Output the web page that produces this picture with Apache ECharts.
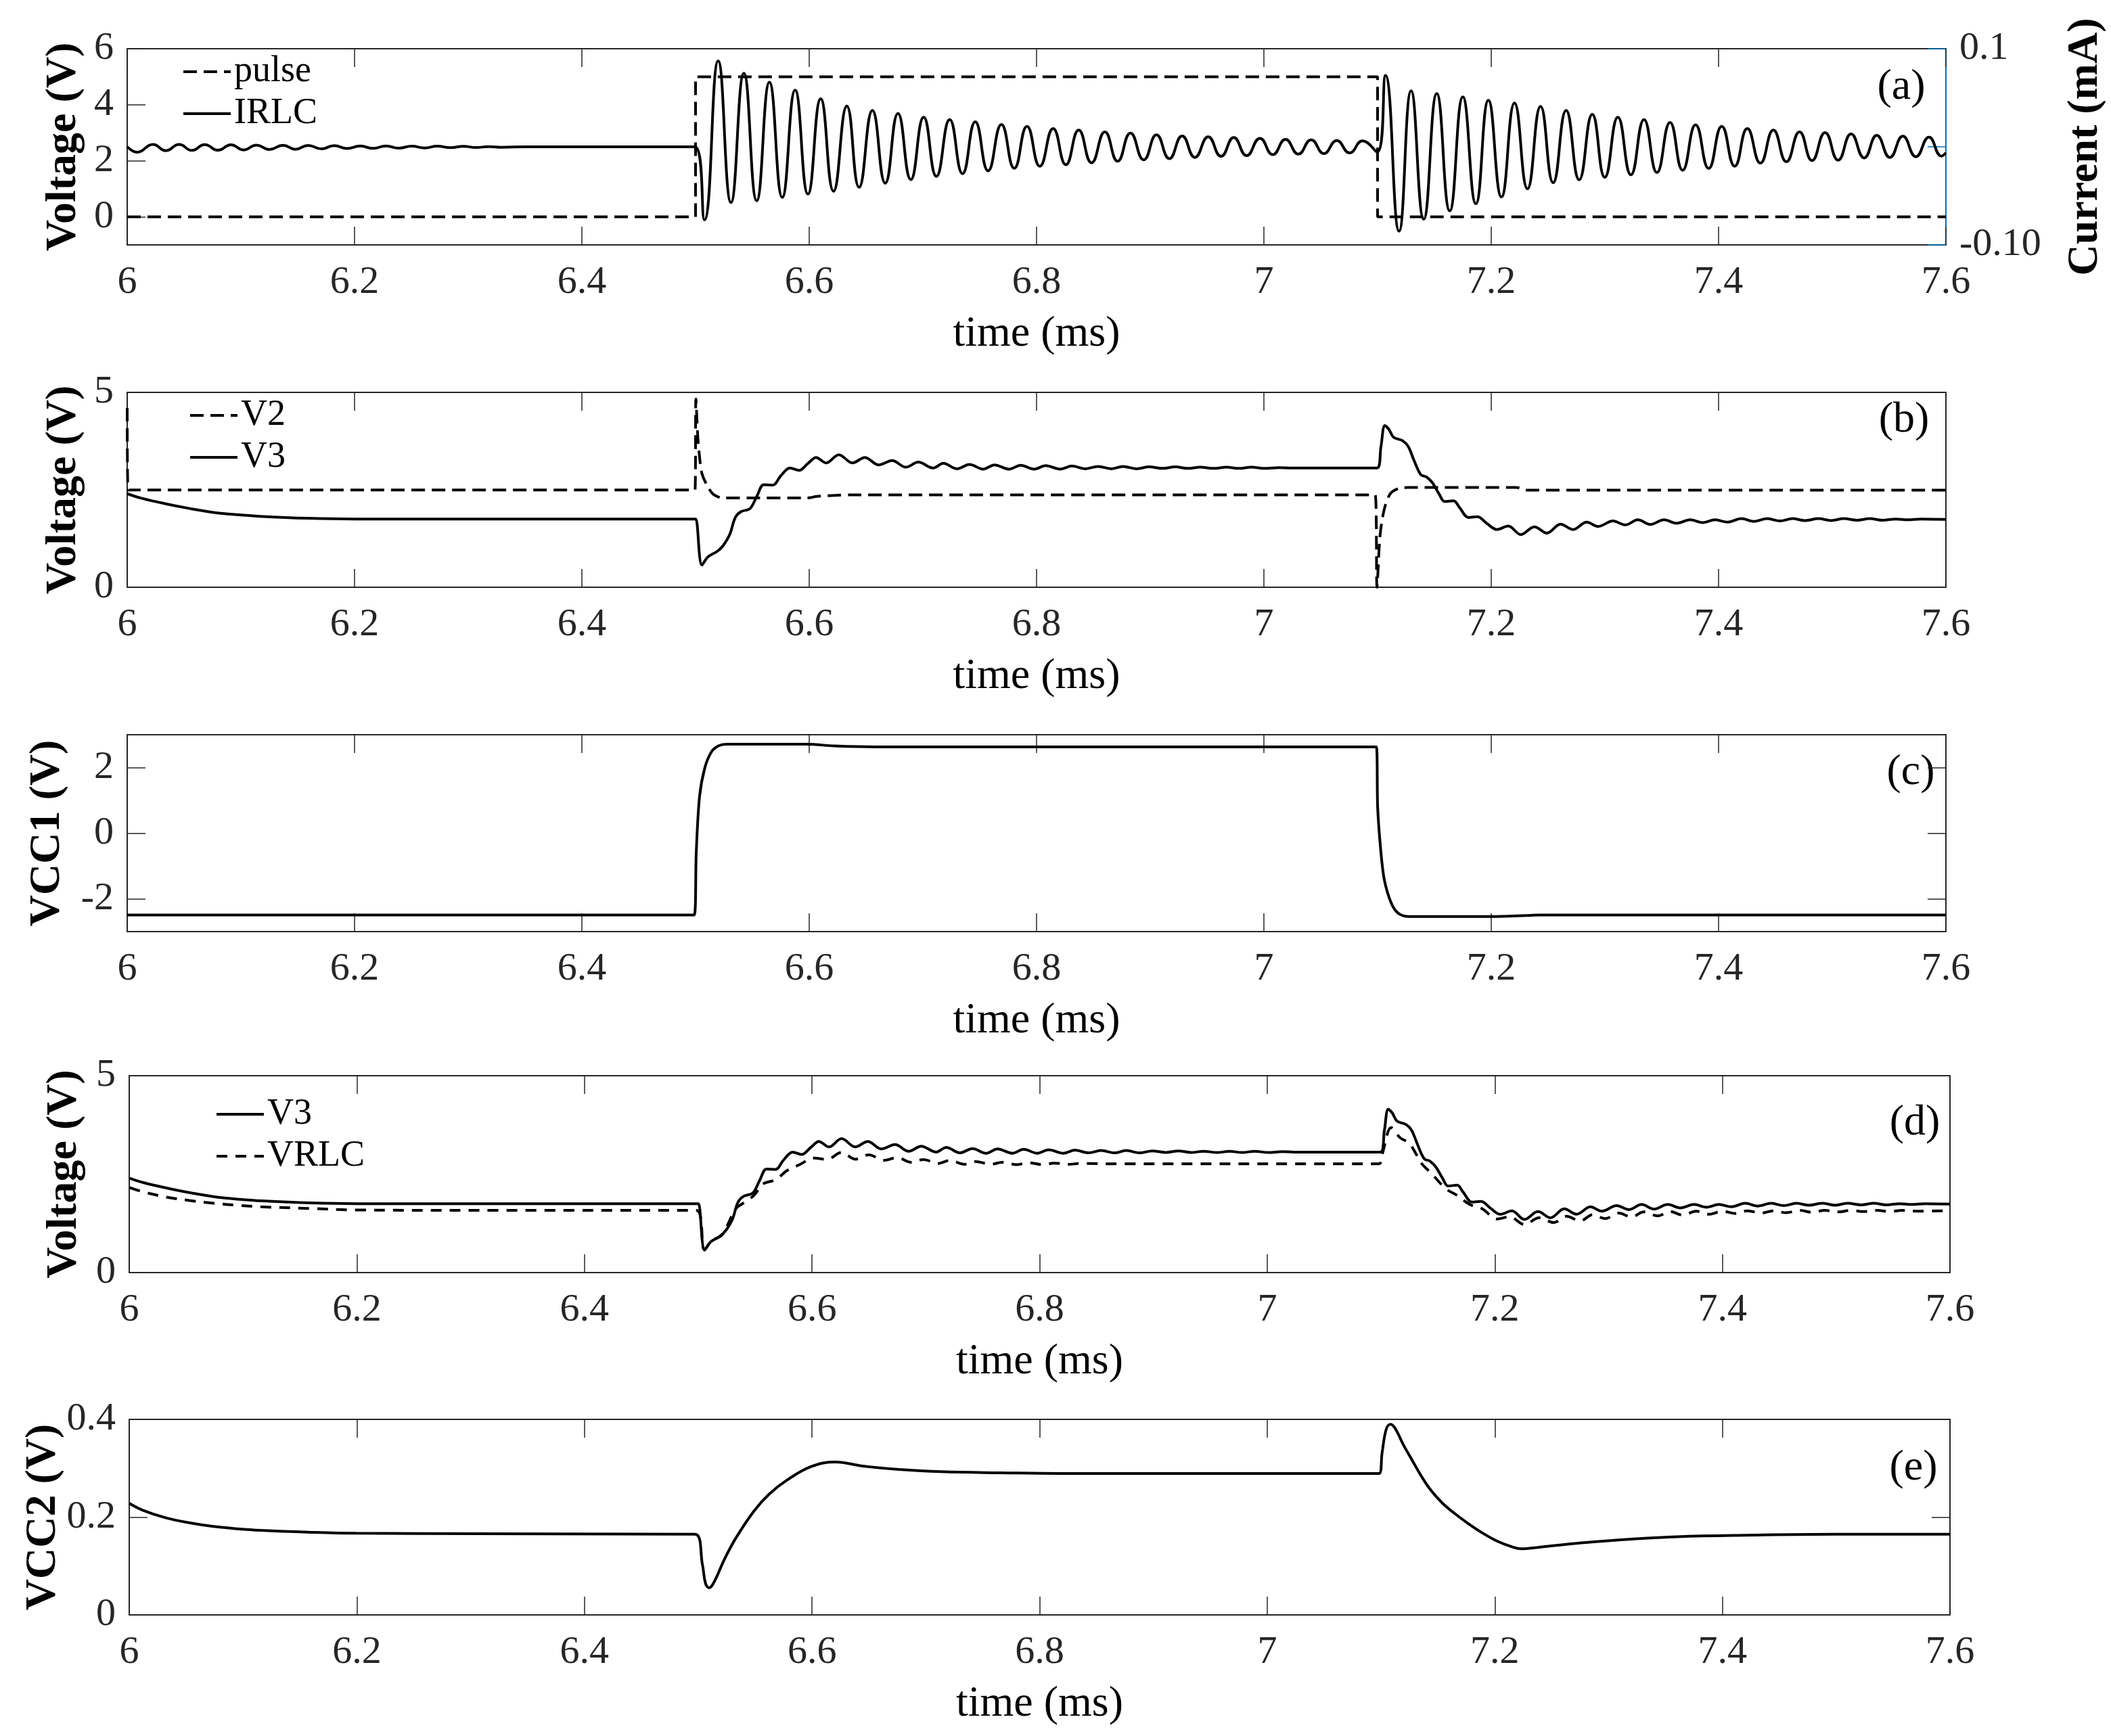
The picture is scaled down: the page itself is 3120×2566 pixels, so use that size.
<!DOCTYPE html>
<html>
<head>
<meta charset="utf-8">
<script src="https://cdn.jsdelivr.net/npm/echarts@6.0.0/dist/echarts.min.js"></script>
<style>
html,body{margin:0;padding:0;background:#fff;}
#chart{width:3120px;height:2566px;}
</style>
</head>
<body>
<div id="chart"></div>
<script>
// tick values
var timeTicks = [6, 6.2, 6.4, 6.6, 6.8, 7, 7.2, 7.4, 7.6];
var ticksA = [0, 2, 4, 6];
var ticksCurrent = [-0.1, 0, 0.1];
var labelsCurrent = [-0.1, 0.1];
var ticksB = [0, 5];
var ticksC = [-2, 0, 2];
var ticksD = [0, 5];
var ticksE = [0, 0.2, 0.4];

// (a) pulse (V) and IRLC (mA)
var pulse = [[6, 0], [6.5, 0], [6.5, 5], [7.1, 5], [7.1, 0], [7.6, 0]];
var irlc = [
  [6.000, 0.0002], [6.0089, -0.0055], [6.0227, 0.0025], [6.0340, -0.0039], [6.0457, 0.0025], [6.0569, -0.0037],
  [6.0682, 0.0023], [6.0799, -0.0035], [6.0912, 0.0021], [6.1024, -0.0032], [6.1137, 0.0018], [6.1250, -0.0028],
  [6.1371, 0.0016], [6.1479, -0.0025], [6.1592, 0.0014], [6.1709, -0.0021], [6.1821, 0.0012], [6.1934, -0.0018],
  [6.2051, 0.0009], [6.2164, -0.0016], [6.2276, 0.0009], [6.2389, -0.0014], [6.2502, 0.0007], [6.2618, -0.0012],
  [6.2727, 0.0007], [6.2844, -0.0009], [6.2958, 0.0005], [6.3069, -0.0007], [6.3182, 0.0002], [6.3295, -0.0005],
  [6.35, 0], [6.4995, 0],
  [6.5078, -0.0745], [6.5199, 0.0876], [6.5312, -0.0568], [6.5425, 0.0750], [6.5538, -0.0550], [6.5650, 0.0658],
  [6.5763, -0.0515], [6.5876, 0.0577], [6.5989, -0.0481], [6.6101, 0.0490], [6.6214, -0.0453], [6.6331, 0.0416],
  [6.6439, -0.0412], [6.6556, 0.0370], [6.6669, -0.0370], [6.6781, 0.0340], [6.6894, -0.0334], [6.7007, 0.0301],
  [6.7119, -0.0301], [6.7236, 0.0278], [6.7349, -0.0274], [6.7461, 0.0255], [6.7574, -0.0244], [6.7691, 0.0228],
  [6.7804, -0.0219], [6.7916, 0.0209], [6.8029, -0.0198], [6.8146, 0.0186], [6.8258, -0.0182], [6.8371, 0.0170],
  [6.8484, -0.0163], [6.8601, 0.0152], [6.8713, -0.0147], [6.8826, 0.0140], [6.8943, -0.0133], [6.9055, 0.0122],
  [6.9168, -0.0120], [6.9281, 0.0110], [6.9393, -0.0108], [6.9510, 0.0101], [6.9623, -0.0097], [6.9735, 0.0094],
  [6.9848, -0.0090], [6.9965, 0.0087], [7.0078, -0.0080], [7.0190, 0.0076], [7.0303, -0.0074], [7.0416, 0.0071],
  [7.0528, -0.0069], [7.0641, 0.0064], [7.0754, -0.0062], [7.0867, 0.0060], [7.0996, -0.0055],
  [7.1070, 0.0727], [7.1189, -0.0860], [7.1295, 0.0570], [7.1406, -0.0738], [7.1521, 0.0543], [7.1635, -0.0653],
  [7.1750, 0.0508], [7.1865, -0.0580], [7.1975, 0.0474], [7.2090, -0.0511], [7.2205, 0.0446], [7.2319, -0.0428],
  [7.2434, 0.0412], [7.2545, -0.0366], [7.2659, 0.0370], [7.2774, -0.0336], [7.2889, 0.0331], [7.2999, -0.0311],
  [7.3114, 0.0301], [7.3229, -0.0285], [7.3344, 0.0278], [7.3458, -0.0262], [7.3573, 0.0248], [7.3684, -0.0239],
  [7.3798, 0.0225], [7.3913, -0.0221], [7.4028, 0.0209], [7.4142, -0.0198], [7.4253, 0.0186], [7.4368, -0.0166],
  [7.4482, 0.0170], [7.4597, -0.0152], [7.4712, 0.0152], [7.4822, -0.0140], [7.4937, 0.0145], [7.5052, -0.0136],
  [7.5166, 0.0131], [7.5281, -0.0113], [7.5392, 0.0117], [7.5507, -0.0108], [7.5621, 0.0108], [7.5736, -0.0101],
  [7.5851, 0.0099], [7.5961, -0.0094], [7.6, -0.006]
];

// (b) V2, V3 ; (d) V3, VRLC
var v2 = [
  [6.0, 4.6], [6.0008, 2.494], [6.4995, 2.494], [6.5003, 4.83], [6.5019, 3.9], [6.503, 3.5], [6.5056, 2.92],
  [6.511, 2.57], [6.5163, 2.37], [6.5242, 2.29], [6.5561, 2.29], [6.5986, 2.29], [6.6066, 2.33], [6.6252, 2.36],
  [6.6358, 2.37], [7.0979, 2.37], [7.0995, 0.0], [7.1021, 1.30], [7.1058, 1.99], [7.1112, 2.40], [7.1191, 2.54],
  [7.1271, 2.56], [7.222, 2.56], [7.231, 2.49], [7.6, 2.49]
];
var v3 = [
  [6.000, 2.40], [6.013, 2.28], [6.034, 2.14], [6.055, 2.02], [6.076, 1.92], [6.097, 1.86], [6.117, 1.82],
  [6.159, 1.77], [6.201, 1.75], [6.305, 1.75], [6.4995, 1.75], [6.5003, 1.75],
  [6.5056, 0.57], [6.511, 0.78], [6.519, 0.92], [6.524, 1.06], [6.530, 1.35], [6.535, 1.79], [6.540, 1.94],
  [6.548, 2.02], [6.554, 2.34], [6.560, 2.63], [6.568, 2.62], [6.575, 2.86], [6.583, 3.06], [6.591, 3.00],
  [6.599, 3.18], [6.606, 3.33], [6.615, 3.19], [6.626, 3.40], [6.638, 3.19], [6.649, 3.33], [6.661, 3.14],
  [6.673, 3.25], [6.685, 3.08], [6.696, 3.21], [6.709, 3.06], [6.718, 3.18], [6.730, 3.04], [6.741, 3.15],
  [6.753, 3.03], [6.763, 3.14], [6.776, 3.03], [6.786, 3.13], [6.798, 3.03], [6.808, 3.12], [6.821, 3.03],
  [6.831, 3.11], [6.843, 3.04], [6.854, 3.10], [6.866, 3.04], [6.876, 3.10], [6.888, 3.04], [6.899, 3.09],
  [6.911, 3.05], [6.922, 3.09], [6.933, 3.05], [6.944, 3.08], [6.956, 3.05], [6.967, 3.08], [6.978, 3.05],
  [6.989, 3.08], [7.001, 3.05], [7.013, 3.07], [7.024, 3.06], [7.0995, 3.06],
  [7.103, 3.61], [7.1064, 4.15], [7.110, 4.05], [7.114, 3.85], [7.122, 3.76], [7.127, 3.61], [7.132, 3.26],
  [7.138, 2.89], [7.143, 2.83], [7.148, 2.69], [7.154, 2.40], [7.159, 2.20], [7.167, 2.22], [7.172, 2.05],
  [7.180, 1.79], [7.188, 1.81], [7.196, 1.64], [7.205, 1.48], [7.215, 1.57], [7.226, 1.35], [7.238, 1.55],
  [7.249, 1.39], [7.261, 1.62], [7.272, 1.48], [7.284, 1.67], [7.294, 1.56], [7.307, 1.70], [7.318, 1.60],
  [7.329, 1.73], [7.340, 1.61], [7.352, 1.73], [7.363, 1.64], [7.375, 1.73], [7.386, 1.66], [7.397, 1.73],
  [7.408, 1.67], [7.420, 1.76], [7.431, 1.69], [7.443, 1.76], [7.454, 1.70], [7.465, 1.76], [7.476, 1.71],
  [7.488, 1.76], [7.499, 1.71], [7.510, 1.76], [7.522, 1.72], [7.533, 1.76], [7.544, 1.72], [7.556, 1.75],
  [7.566, 1.73], [7.578, 1.75], [7.600, 1.74]
];
var vrlc = [
  [6.0003, 2.16], [6.012, 2.05], [6.032, 1.92], [6.053, 1.83], [6.074, 1.76], [6.095, 1.71], [6.116, 1.67],
  [6.158, 1.63], [6.199, 1.59], [6.304, 1.58], [6.4985, 1.58], [6.5054, 0.58], [6.512, 0.81], [6.520, 0.93],
  [6.525, 1.16], [6.533, 1.62], [6.541, 1.79], [6.549, 1.96], [6.557, 2.25], [6.568, 2.36], [6.578, 2.59],
  [6.589, 2.74], [6.602, 2.91], [6.613, 2.87], [6.626, 3.05], [6.638, 2.88], [6.650, 2.99], [6.663, 2.85],
  [6.675, 2.92], [6.687, 2.80], [6.698, 2.87], [6.711, 2.77], [6.721, 2.85], [6.734, 2.75], [6.744, 2.82],
  [6.757, 2.75], [6.767, 2.80], [6.780, 2.74], [6.790, 2.79], [6.803, 2.74], [6.813, 2.78], [6.825, 2.75],
  [6.836, 2.77], [6.873, 2.76], [7.098, 2.76], [7.101, 3.00], [7.109, 3.68], [7.117, 3.42], [7.125, 3.28],
  [7.136, 2.76], [7.144, 2.53], [7.157, 2.13], [7.167, 1.96], [7.178, 1.73], [7.189, 1.62], [7.202, 1.36],
  [7.213, 1.42], [7.226, 1.22], [7.239, 1.39], [7.252, 1.27], [7.263, 1.43], [7.275, 1.31], [7.286, 1.47],
  [7.297, 1.37], [7.309, 1.51], [7.320, 1.41], [7.331, 1.54], [7.343, 1.44], [7.354, 1.55], [7.365, 1.46],
  [7.377, 1.56], [7.388, 1.48], [7.400, 1.56], [7.411, 1.50], [7.422, 1.57], [7.434, 1.51], [7.445, 1.57],
  [7.456, 1.52], [7.468, 1.58], [7.479, 1.53], [7.490, 1.58], [7.502, 1.54], [7.513, 1.58], [7.524, 1.55],
  [7.536, 1.58], [7.547, 1.55], [7.558, 1.58], [7.570, 1.56], [7.600, 1.57]
];

// (c) VCC1
var vcc1 = [
  [6.0, -2.495], [6.4988, -2.495], [6.5006, -0.60], [6.5035, 1.11], [6.5083, 2.01], [6.5142, 2.49], [6.5201, 2.66],
  [6.5272, 2.71], [6.5982, 2.71], [6.6219, 2.66], [6.6574, 2.63], [7.0989, 2.63], [7.1001, 0.77], [7.1030, -0.60],
  [7.1060, -1.43], [7.1119, -2.12], [7.1178, -2.43], [7.1267, -2.54], [7.2007, -2.54], [7.2303, -2.51],
  [7.2421, -2.495], [7.6, -2.495]
];

// (e) VCC2
var vcc2 = [
  [6.0, 0.2284], [6.0116, 0.2145], [6.0324, 0.1984], [6.0533, 0.1882], [6.0741, 0.1809], [6.095, 0.1762],
  [6.1158, 0.1730], [6.1575, 0.1693], [6.1992, 0.1670], [6.3035, 0.1661], [6.4971, 0.1652], [6.5038, 0.1015],
  [6.5064, 0.0646], [6.5096, 0.0554], [6.5144, 0.0692], [6.5224, 0.1107], [6.533, 0.1569], [6.5489, 0.2122],
  [6.5622, 0.2468], [6.5781, 0.2759], [6.5994, 0.3036], [6.6206, 0.3128], [6.6445, 0.3045], [6.6764, 0.2976],
  [6.7135, 0.2930], [6.7666, 0.2907], [6.8196, 0.2893], [7.0983, 0.2893], [7.101, 0.3322], [7.1047, 0.3806],
  [7.1084, 0.3898], [7.1127, 0.3806], [7.1196, 0.3483], [7.1275, 0.3160], [7.1355, 0.2837], [7.1435, 0.2561],
  [7.1541, 0.2284], [7.1647, 0.2076], [7.1753, 0.1892], [7.1886, 0.1684], [7.2018, 0.1513], [7.2151, 0.1393],
  [7.2231, 0.1352], [7.239, 0.1384], [7.2539, 0.1421], [7.28, 0.148], [7.32, 0.155], [7.36, 0.160],
  [7.42, 0.163], [7.5, 0.165], [7.6, 0.165]
];

var axisColor = '#262626';
var blue = '#0072BD';
var serif = 'Liberation Serif';

var grids = [
  {left: 188, top: 72, width: 2688, height: 290},
  {left: 188, top: 580, width: 2688, height: 288},
  {left: 188, top: 1086, width: 2688, height: 291},
  {left: 191, top: 1590, width: 2691, height: 291},
  {left: 191, top: 2098, width: 2691, height: 289}
];
var yCfg = [
  {min: -1, max: 6, ticks: ticksA, name: 'Voltage (V)', gap: 62},
  {min: 0, max: 5, ticks: ticksB, name: 'Voltage (V)', gap: 62},
  {min: -3, max: 3, ticks: ticksC, name: 'VCC1 (V)', gap: 86},
  {min: 0, max: 5, ticks: ticksD, name: 'Voltage (V)', gap: 64},
  {min: 0, max: 0.4, ticks: ticksE, name: 'VCC2 (V)', gap: 95}
];

function fmt(v) {
  return String(Math.round(v * 10) / 10);
}

var xAxes = [], yAxes = [];
for (var i = 0; i < 5; i++) {
  grids[i].outerBoundsMode = 'none';
  xAxes.push({
    gridIndex: i, type: 'value', position: 'bottom', min: 6, max: 7.6,
    axisLine: {show: true, onZero: false, lineStyle: {color: axisColor, width: 2}},
    axisTick: {show: true, inside: true, length: 27, customValues: timeTicks, lineStyle: {color: axisColor, width: 1.5}},
    axisLabel: {customValues: timeTicks, formatter: fmt, margin: 27, color: axisColor, fontSize: 58, fontFamily: serif},
    splitLine: {show: false},
    name: 'time (ms)', nameLocation: 'middle', nameGap: 100, nameMoveOverlap: false,
    nameTextStyle: {fontSize: 64, fontFamily: serif, color: '#000'}
  });
  xAxes.push({
    gridIndex: i, type: 'value', position: 'top', min: 6, max: 7.6,
    axisLine: {show: true, onZero: false, lineStyle: {color: axisColor, width: 2}},
    axisTick: {show: true, inside: true, length: 27, customValues: timeTicks, lineStyle: {color: axisColor, width: 1.5}},
    axisLabel: {show: false},
    splitLine: {show: false}
  });
  yAxes.push({
    gridIndex: i, type: 'value', position: 'left', min: yCfg[i].min, max: yCfg[i].max,
    axisLine: {show: true, onZero: false, lineStyle: {color: axisColor, width: 2}},
    axisTick: {show: true, inside: true, length: 27, customValues: yCfg[i].ticks, lineStyle: {color: axisColor, width: 1.5}},
    axisLabel: {customValues: yCfg[i].ticks, formatter: fmt, margin: 20, color: axisColor, fontSize: 58, fontFamily: serif},
    splitLine: {show: false},
    name: yCfg[i].name, nameLocation: 'middle', nameGap: yCfg[i].gap, nameRotate: 90, nameMoveOverlap: false,
    nameTextStyle: {fontSize: 64, fontWeight: 'bold', fontFamily: serif, color: '#000'}
  });
  if (i === 0) {
    // current axis on the right of (a)
    yAxes.push({
      gridIndex: 0, type: 'value', position: 'right', min: -0.1, max: 0.1,
      axisLine: {show: true, onZero: false, lineStyle: {color: blue, width: 2}},
      axisTick: {show: true, inside: true, length: 27, customValues: ticksCurrent, lineStyle: {color: blue, width: 1.5}},
      axisLabel: {
        customValues: labelsCurrent, margin: 20, color: axisColor, fontSize: 58, fontFamily: serif,
        formatter: function (v) { return v > 0 ? '0.1' : '-0.10'; }
      },
      splitLine: {show: false},
      name: 'Current (mA)', nameLocation: 'middle', nameGap: 174, nameRotate: 90, nameMoveOverlap: false,
      nameTextStyle: {fontSize: 64, fontWeight: 'bold', fontFamily: serif, color: '#000'}
    });
  } else {
    yAxes.push({
      gridIndex: i, type: 'value', position: 'right', min: yCfg[i].min, max: yCfg[i].max,
      axisLine: {show: true, onZero: false, lineStyle: {color: axisColor, width: 2}},
      axisTick: {show: true, inside: true, length: 27, customValues: yCfg[i].ticks, lineStyle: {color: axisColor, width: 1.5}},
      axisLabel: {show: false},
      splitLine: {show: false}
    });
  }
}

function line(name, data, xi, yi, dash, smooth) {
  return {
    name: name, type: 'line', data: data, xAxisIndex: xi, yAxisIndex: yi,
    symbol: 'none', smooth: smooth, animation: false,
    lineStyle: {color: '#000', width: 4, type: dash || 'solid'},
    itemStyle: {color: '#000'}
  };
}

var legendBase = {
  orient: 'vertical', itemWidth: 70, itemHeight: 20, itemGap: 8, selectedMode: false,
  itemStyle: {opacity: 0},
  lineStyle: {width: 4},
  textStyle: {fontSize: 54, fontFamily: serif, color: '#000'}
};

function panelLabel(text, x, y) {
  return {
    type: 'text', x: x, y: y,
    style: {text: text, fontSize: 64, fontFamily: serif, fill: '#000', align: 'center', verticalAlign: 'middle'}
  };
}

var option = {
  backgroundColor: '#fff',
  animation: false,
  grid: grids,
  xAxis: xAxes,
  yAxis: yAxes,
  legend: [
    Object.assign({}, legendBase, {left: 264, top: 74, data: ['pulse', 'IRLC']}),
    Object.assign({}, legendBase, {left: 274, top: 582, data: ['V2', 'V3']}),
    Object.assign({}, legendBase, {left: 313, top: 1615, data: ['V3', 'VRLC']})
  ],
  graphic: [
    panelLabel('(a)', 2810, 129),
    panelLabel('(b)', 2814, 621),
    panelLabel('(c)', 2824, 1142),
    panelLabel('(d)', 2830, 1660),
    panelLabel('(e)', 2828, 2170)
  ],
  series: [
    line('pulse', pulse, 0, 0, [20, 10], false),
    line('IRLC', irlc, 0, 1, null, 0.5),
    line('V2', v2, 2, 2, [20, 10], 0.3),
    line('V3', v3, 2, 2, null, 0.35),
    line('VCC1', vcc1, 4, 4, null, 0.3),
    line('V3', v3, 6, 6, null, 0.35),
    line('VRLC', vrlc, 6, 6, [16, 12], 0.35),
    line('VCC2', vcc2, 8, 8, null, 0.4)
  ]
};

var chart = echarts.init(document.getElementById('chart'), null, {renderer: 'canvas'});
chart.setOption(option);
</script>
</body>
</html>
